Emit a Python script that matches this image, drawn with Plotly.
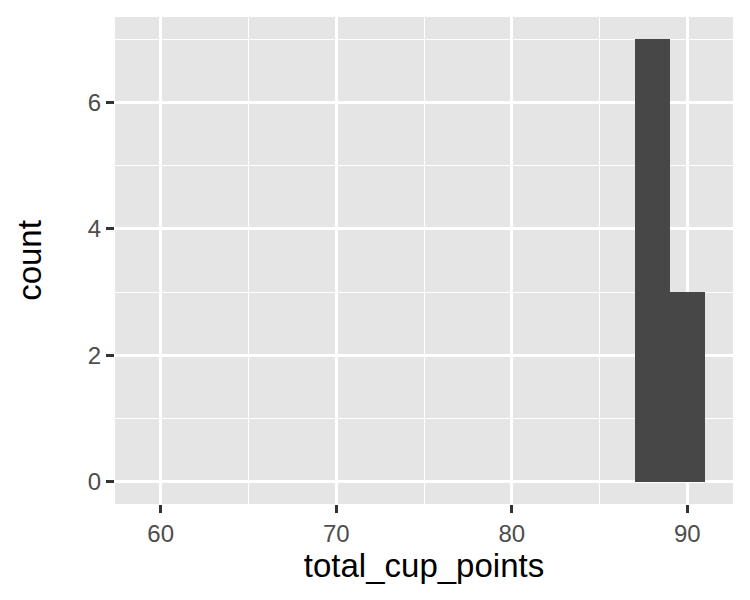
import plotly.graph_objects as go

# histogram bins of total_cup_points (binwidth 2)
bin_centers = [60, 62, 64, 66, 68, 70, 72, 74, 76, 78, 80, 82, 84, 86, 88, 90]
counts = [0, 0, 0, 0, 0, 0, 0, 0, 0, 0, 0, 0, 0, 0, 7, 3]
bin_width = 2

x_ticks = [60, 70, 80, 90]
y_ticks = [0, 2, 4, 6]

fig = go.Figure()
fig.add_trace(go.Bar(
    x=bin_centers, y=counts, width=bin_width,
    marker=dict(color="#474747", line=dict(width=0)),
    showlegend=False,
))

axis_common = dict(
    showline=False, zeroline=False,
    showgrid=True, gridcolor="white", gridwidth=2.5,
    ticks="outside", ticklen=8, tickwidth=2.5, tickcolor="#333333",
    tickfont=dict(family="Liberation Sans, Arial", size=24, color="#4D4D4D"),
    title_font=dict(family="Liberation Sans, Arial", size=33, color="black"),
)

# page body adds 8px offset, so margins are shifted to compensate
fig.update_layout(
    width=750, height=600,
    margin=dict(l=107, r=25, t=9, b=104),
    paper_bgcolor="white", plot_bgcolor="#E5E5E5",
    bargap=0,
    xaxis=dict(
        range=[57.4, 92.6], tickvals=x_ticks,
        minor=dict(showgrid=True, dtick=5, tick0=55, gridcolor="white", gridwidth=1.2),
        title=dict(text="total_cup_points", standoff=7),
        **axis_common,
    ),
    yaxis=dict(
        range=[-0.35, 7.35], tickvals=y_ticks,
        minor=dict(showgrid=True, dtick=1, tick0=1, gridcolor="white", gridwidth=1.2),
        title=dict(text="count", standoff=36),
        **axis_common,
    ),
)

fig.write_html("out.html")
